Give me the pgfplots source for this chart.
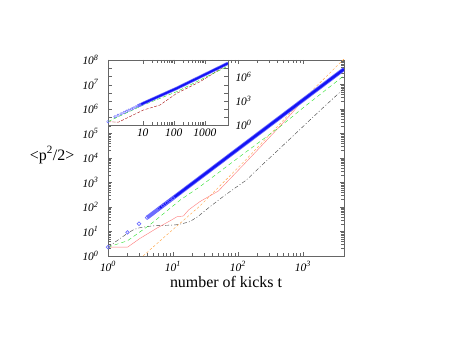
\documentclass[border=0pt]{standalone}
\usepackage{fontspec}
\setmainfont{Liberation Serif}
\usepackage{pgfplots}
\pgfplotsset{compat=1.18}

\definecolor{cblue}{RGB}{20,20,245}
\definecolor{cblueL}{RGB}{110,110,255}
\definecolor{cgreen}{RGB}{40,225,40}
\definecolor{cred}{RGB}{255,120,120}
\definecolor{corange}{RGB}{255,160,60}
\definecolor{cdark}{RGB}{60,60,60}
\definecolor{cdred}{RGB}{170,20,20}

\newcommand{\tl}[1]{\textit{10\textsuperscript{#1}}}

\begin{document}
\begin{tikzpicture}[x=1bp,y=1bp]
\useasboundingbox (0,0) rectangle (451,349);

% main axis
\begin{axis}[
    at={(108bp,93bp)}, anchor=south west,
    scale only axis, width=236bp, height=196bp,
    xmode=log, ymode=log,
    xmin=1, xmax=4300, ymin=1, ymax=1e8,
    axis line style={black!60},
    every tick/.style={black!60},
    xtick={1,10,100,1000},
    xticklabels={\tl{0},\tl{1},\tl{2},\tl{3}},
    ytick={1,10,100,1000,1e4,1e5,1e6,1e7,1e8},
    yticklabels={\tl{0},\tl{1},\tl{2},\tl{3},\tl{4},\tl{5},\tl{6},\tl{7},\tl{8}},
    tick label style={font=\fontsize{11.5}{11.5}\selectfont},
    yticklabel style={xshift=-6bp},
    xticklabel style={yshift=-2bp},
    xlabel={number of kicks t},
    ylabel={<p\textsuperscript{2}/2>},
    every axis x label/.style={at={(axis description cs:0.5,-0.13)}, anchor=center,
        font=\fontsize{16}{16}\selectfont},
    every axis y label/.style={at={(axis description cs:-0.237,0.515)}, anchor=center,
        font=\fontsize{16}{16}\selectfont},
]
% black dash-dot
\addplot[cdark, thin, dash pattern=on 4bp off 2bp on 1bp off 2bp] coordinates {
(1,2.3) (2,8.5) (2.5,12) (3,14) (4,16) (5,17) (8,18) (11,18.6) (14,21) (18,25)
(24,40) (32,75) (50,190) (75,420) (135,1260) (250,6000) (445,2.5e4) (1000,1.9e5)
(2000,1.07e6) (4300,6.9e6)};
% orange dashed
\addplot[corange, thin, dash pattern=on 2.5bp off 2bp] coordinates {
(3.47,1) (7.5,6.2) (26,110) (135,8900) (445,2.5e5) (1000,2.4e6) (4300,1.1e8)};
% light red solid
\addplot[cred, thin] coordinates {
(1,2.3) (2,2.3) (3.1,5.2) (5.6,13.5) (9.5,29.5) (11.5,40) (14.5,43) (17.4,76)
(26,166) (50,450) (135,7000) (445,2.0e5) (700,7.5e5) (1000,2.3e6) (2000,9.2e6) (4300,4.25e7)};
% green dashed
\addplot[cgreen, thin, dash pattern=on 4bp off 3bp] coordinates {
(1,2.3) (2,4.2) (4.4,18.6) (13,195) (26,676) (100,1e4) (445,1.9e5) (1000,1.1e6) (4300,2.3e7)};
% blue band
\addplot[cblueL, line width=4pt] coordinates {
(4,36.8) (10,230) (100,2.3e4) (1000,2.3e6) (4300,4.25e7)};
\addplot[cblue, line width=2.4pt] coordinates {
(6,82.8) (10,230) (100,2.3e4) (1000,2.3e6) (4300,4.25e7)};
\addplot[only marks, mark=o, mark size=1.8pt, cblueL, mark options={line width=0.7pt}] coordinates {
(1,2.3) (2,9.2) (3,20.7) (4,36.8) (5,57.5) (6,82.8) (7,112.7) (8,147.2) (9,186.3) (10,230)};
\end{axis}

% inset
\begin{axis}[
    at={(108bp,224bp)}, anchor=south west,
    scale only axis, width=120bp, height=65bp,
    xmode=log, ymode=log,
    xmin=0.76, xmax=5600, ymin=1, ymax=1.17e8,
    axis background/.style={fill=white},
    axis line style={black!60},
    every tick/.style={black!60},
    xtick={10,100,1000},
    xticklabels={\textit{10},\textit{100},\textit{1000}},
    ytick={1,1000,1e6},
    yticklabels={\tl{0},\tl{3},\tl{6}},
    extra y ticks={10,100,1e4,1e5,1e7,1e8},
    extra y tick labels={},
    yticklabel pos=right,
    ytick pos=both,
    tick label style={font=\fontsize{11.5}{11.5}\selectfont},
    yticklabel style={xshift=4bp},
]
\addplot[cdred, thin, dash pattern=on 3bp off 1.5bp] coordinates {
(0.76,2.6) (1.63,2.2) (10.5,72) (36,302) (125,8700) (710,2.4e5) (5130,2.8e7) (5600,3.4e7)};
\addplot[cgreen, thin, dash pattern=on 4bp off 2bp] coordinates {
(0.76,2.6) (1.63,10.7) (10.5,302) (125,1.38e4) (5130,1.74e7) (5600,2.1e7)};
\addplot[only marks, mark=o, mark size=1.3pt, cblueL, mark options={line width=0.5pt}] coordinates {
(0.76,2.6) (1.28,10.7) (1.6,16) (2,24) (2.5,36) (3,50) (3.6,70) (4.3,95) (5,125) (6,175) (7,230) (8,290)};
\addplot[cblueL, line width=3.2pt] coordinates {
(7,230) (10.5,500) (125,3.6e4) (5600,4.6e7)};
\addplot[cblue, line width=1.8pt] coordinates {
(9,380) (10.5,500) (125,3.6e4) (5600,4.6e7)};
\end{axis}
\end{tikzpicture}
\end{document}
